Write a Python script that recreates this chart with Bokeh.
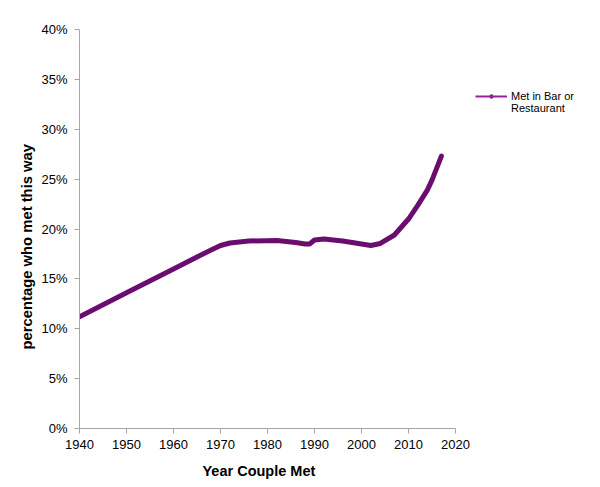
from bokeh.plotting import figure
from bokeh.models import (ColumnDataSource, NumeralTickFormatter, FixedTicker,
                          Legend, LegendItem, Title, Range1d)
from bokeh.embed import file_html
from bokeh.resources import INLINE

years = [1940, 1950, 1960, 1965, 1968, 1970, 1972, 1976, 1982, 1986, 1988,
         1989, 1990, 1992, 1996, 2000, 2002, 2004, 2007, 2010, 2012, 2014,
         2015, 2017]
pct_bar = [11.2, 13.6, 16.0, 17.2, 17.9, 18.35, 18.6, 18.8, 18.85, 18.65, 18.5,
           18.5, 18.9, 19.0, 18.8, 18.5, 18.35, 18.55, 19.4, 21.0, 22.4, 23.9,
           24.9, 27.3]
series_name_lines = ["Met in Bar or", "Restaurant"]
x_ticks = [1940, 1950, 1960, 1970, 1980, 1990, 2000, 2010, 2020]
y_ticks = [0, 0.05, 0.10, 0.15, 0.20, 0.25, 0.30, 0.35, 0.40]

src = ColumnDataSource(dict(year=years, share=[v / 100 for v in pct_bar]))
legend_src = ColumnDataSource(dict(year=[float("nan")], share=[float("nan")]))

FONT = "Liberation Sans"

# frame extends right of 2020 (axis bounded to 1940-2020) so the legend fits
PX_PER_YEAR = 376 / 80
FRAME_W = 520
x_end = 1940 + FRAME_W / PX_PER_YEAR

p = figure(frame_width=FRAME_W, frame_height=399, output_backend="svg",
           toolbar_location=None,
           x_range=Range1d(1940, x_end), y_range=Range1d(0, 0.40),
           min_border_left=79, min_border_right=0, min_border_top=29,
           min_border_bottom=59)
p.outline_line_color = None
p.grid.grid_line_color = None
p.background_fill_color = "white"
p.border_fill_color = "white"

line = p.line("year", "share", source=src, line_color="#6A0D6E", line_width=5,
              line_cap="round", line_join="round")
leg_line = p.line("year", "share", source=legend_src, line_color="#9A1E9E",
                  line_width=2)
leg_mark = p.scatter("year", "share", source=legend_src, marker="asterisk", size=8,
                     line_color="#9A1E9E", line_width=1.2)
leg_blank = p.line("year", "share", source=legend_src, line_alpha=0)

for ax in (p.xaxis[0], p.yaxis[0]):
    ax.axis_line_color = "#A6A6A6"
    ax.major_tick_line_color = "#A6A6A6"
    ax.minor_tick_line_color = None
    ax.major_tick_out = 5
    ax.major_tick_in = 0
    ax.major_label_text_font = FONT
    ax.major_label_text_font_size = "13px"
    ax.major_label_text_color = "black"

p.xaxis.bounds = (1940, 2020)
p.xaxis.ticker = FixedTicker(ticks=x_ticks)
p.yaxis.ticker = FixedTicker(ticks=y_ticks)
p.yaxis.formatter = NumeralTickFormatter(format="0%")
p.xaxis.major_label_standoff = 6
p.yaxis.major_label_standoff = 7

xtitle = Title(text="Year Couple Met", align="left", offset=123,
               text_font=FONT, text_font_style="bold", text_font_size="14.5px",
               text_color="black", standoff=18)
p.add_layout(xtitle, "below")

ytitle = Title(text="percentage who met this way", align="left", offset=79,
               text_font=FONT, text_font_style="bold", text_font_size="14.8px",
               text_color="black", standoff=7)
p.add_layout(ytitle, "left")

legend = Legend(items=[LegendItem(label=series_name_lines[0],
                                  renderers=[leg_line, leg_mark]),
                       LegendItem(label=series_name_lines[1],
                                  renderers=[leg_blank])],
                location=(396, 314), border_line_color=None,
                background_fill_alpha=0, padding=0, margin=0, spacing=0,
                glyph_width=32, glyph_height=12, label_standoff=4,
                label_height=12,
                label_text_font=FONT, label_text_font_size="11px",
                label_text_color="black", label_text_line_height=1.2)
p.add_layout(legend, "center")

open("out.html", "w").write(file_html(p, INLINE))
